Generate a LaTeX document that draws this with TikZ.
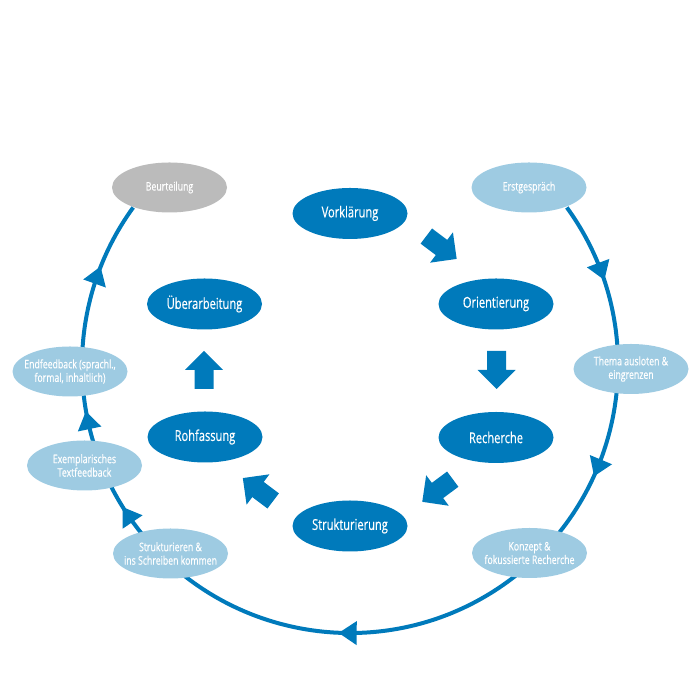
\documentclass[tikz,border=0pt]{standalone}
\usepackage{fontspec}
\setmainfont[FakeStretch=0.74,FakeBold=0.4]{Open Sans}
\usetikzlibrary{shapes.geometric,decorations.markings,backgrounds}
\definecolor{dblue}{RGB}{0,122,187}
\definecolor{lblue}{RGB}{158,203,226}
\definecolor{lgray}{RGB}{187,187,187}
\tikzset{
  blockarrow/.pic={\fill[dblue] (-19,-9.5)--(0,-9.5)--(0,-19)--(19,0)--(0,19)--(0,9.5)--(-19,9.5)--cycle;},
  cyctip/.style={decoration={markings,
    mark=at position #1 with {\fill[dblue] (-9,-12)--(9,0)--(-9,12)--cycle;}}},
}
\begin{document}
\begin{tikzpicture}[x=1pt,y=1pt,
  inner/.style={ellipse, fill=dblue, text=white, minimum width=115pt, minimum height=51pt,
    inner xsep=-30pt, inner ysep=-20pt, font=\fontsize{15}{17}\selectfont},
  outer/.style={ellipse, fill=lblue, text=white, minimum width=115pt, minimum height=50pt,
    inner xsep=-30pt, inner ysep=-20pt, align=center, font=\fontsize{11.8}{13.5}\selectfont},
  final/.style={outer, fill=lgray},
  cycline/.style={draw=dblue, line width=4pt}]
\useasboundingbox (0,0) rectangle (700,700);
\coordinate (C) at (350,335);

% outer cycle nodes
\node[outer] (erst) at (529,512.5) {Erstgespräch};
\node[outer] (thema) at (631,331) {Thema ausloten \&\\eingrenzen};
\node[outer] (konzept) at (529.5,147) {Konzept \&\\fokussierte Recherche};
\node[outer] (strs) at (170.5,146.5) {Strukturieren \&\\ins Schreiben kommen};
\node[outer] (exem) at (84.5,234.5) {Exemplarisches\\Textfeedback};
\node[outer] (endf) at (70,328.5) {Endfeedback (sprachl.,\\formal, inhaltlich)};
\node[final] (beurt) at (169.5,512.5) {Beurteilung};

% inner cycle nodes
\node[inner] (vork) at (350,486.5) {Vorklärung};
\node[inner] (orie) at (496,396) {Orientierung};
\node[inner] (rech) at (496,262.5) {Recherche};
\node[inner] (strk) at (350,174) {Strukturierung};
\node[inner] (rohf) at (205,263) {Rohfassung};
\node[inner] (ueber) at (204.5,396) {Überarbeitung};

% outer cycle line with arrowheads
\begin{scope}[on background layer]
\draw[cycline] (C) ++(36:268) arc[start angle=36, end angle=-216, radius=268];
\foreach \p in {0.0619,0.2325,0.502,0.7226,0.810,0.935}{
  \path[postaction={decorate}, cyctip=\p] (C) ++(36:268) arc[start angle=36, end angle=-216, radius=268];
}
\end{scope}

% block arrows between inner nodes
\pic[rotate=-37] at (441.5,452.5) {blockarrow};
\pic[rotate=-90] at (496.5,330) {blockarrow};
\pic[rotate=216.6] at (437.5,209.5) {blockarrow};
\pic[rotate=143] at (258,210.5) {blockarrow};
\pic[rotate=90] at (204,330) {blockarrow};
\end{tikzpicture}
\end{document}
